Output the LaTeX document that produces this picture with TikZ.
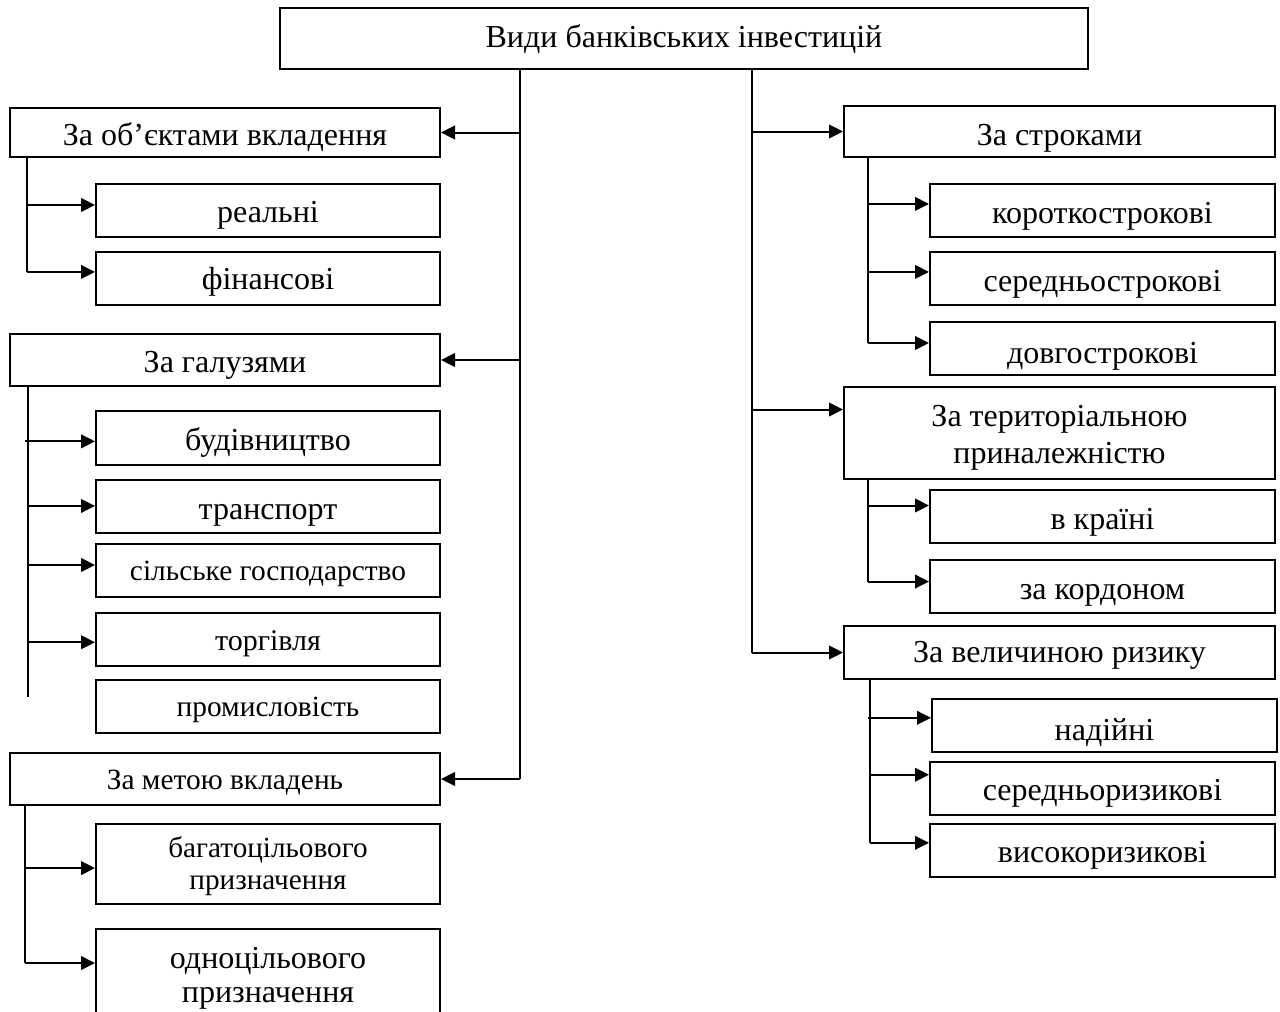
\documentclass[tikz,border=0pt]{standalone}
\usepackage{fontspec}
\setmainfont{Liberation Serif}
\usetikzlibrary{arrows.meta,fit,calc}
\begin{document}
\begin{tikzpicture}[x=0.5pt,y=-0.5pt,
  box/.style={draw, line width=1pt, inner sep=0pt},
  txt/.style={inner sep=0pt, font=\fontsize{16}{18.5}\selectfont, text height=11.2pt, text depth=4pt},
  sm/.style={font=\fontsize{14.7}{17}\selectfont},
  two/.style={inner sep=0pt, align=center, font=\fontsize{16}{18.5}\selectfont},
  arr/.style={line width=1pt, -{Triangle[length=7pt,width=6.8pt]}},
  ln/.style={line width=1pt}]
\useasboundingbox (0,0) rectangle (1280,1012);
% top
\node[box, fit={(280,8)(1088,69)}] (top) {};
\node[txt, yshift=-1pt] (topt) at (top.center) {Види банківських інвестицій};
% left column
\node[box, fit={(10,108)(440,157)}] (o1) {};
\node[txt, yshift=-3pt] (o1t) at (o1.center) {За об’єктами вкладення};
\node[box, fit={(96,184)(440,237)}] (o1a) {};
\node[txt, yshift=-2.25pt] (o1at) at (o1a.center) {реальні};
\node[box, fit={(96,252)(440,305)}] (o1b) {};
\node[txt, yshift=-2pt] (o1bt) at (o1b.center) {фінансові};
\node[box, fit={(10,334)(440,386)}] (o2) {};
\node[txt, yshift=-2.75pt] (o2t) at (o2.center) {За галузями};
\node[box, fit={(96,411)(440,465)}] (o2a) {};
\node[txt, yshift=-2.75pt] (o2at) at (o2a.center) {будівництво};
\node[box, fit={(96,480)(440,533)}] (o2b) {};
\node[txt, yshift=-3pt] (o2bt) at (o2b.center) {транспорт};
\node[box, fit={(96,544)(440,597)}] (o2c) {};
\node[txt, sm, yshift=-1.5pt] (o2ct) at (o2c.center) {сільське господарство};
\node[box, fit={(96,613)(440,666)}] (o2d) {};
\node[txt, font=\fontsize{15}{17}\selectfont, yshift=-2pt] (o2dt) at (o2d.center) {торгівля};
\node[box, fit={(96,680)(440,733)}] (o2e) {};
\node[txt, sm, yshift=-1.5pt] (o2et) at (o2e.center) {промисловість};
\node[box, fit={(10,753)(440,805)}] (o3) {};
\node[txt, sm, yshift=-1.75pt] (o3t) at (o3.center) {За метою вкладень};
\node[box, fit={(96,824)(440,904)}] (o3a) {};
\node[two, font=\fontsize{14.6}{15.8}\selectfont, yshift=-1pt] (o3at) at (o3a.center) {багатоцільового\\призначення};
\node[box, fit={(96,929)(440,1030)}] (o3b) {};
\node[two, font=\fontsize{16}{17.3}\selectfont, yshift=0.5pt] (o3bt) at (o3b.center) {одноцільового\\призначення};
% right column
\node[box, fit={(844,106)(1275,157)}] (r1) {};
\node[txt, yshift=-3.5pt] (r1t) at (r1.center) {За строками};
\node[box, fit={(930,184)(1275,237)}] (r1a) {};
\node[txt, yshift=-2.75pt] (r1at) at (r1a.center) {короткострокові};
\node[box, fit={(930,252)(1275,305)}] (r1b) {};
\node[txt, yshift=-3pt] (r1bt) at (r1b.center) {середньострокові};
\node[box, fit={(930,322)(1275,375)}] (r1c) {};
\node[txt, yshift=-4pt] (r1ct) at (r1c.center) {довгострокові};
\node[box, fit={(844,387)(1275,479)}] (r2) {};
\node[two, yshift=-2.25pt] (r2t) at (r2.center) {За територіальною\\приналежністю};
\node[box, fit={(930,490)(1275,543)}] (r2a) {};
\node[txt, yshift=-3pt] (r2at) at (r2a.center) {в країні};
\node[box, fit={(930,560)(1275,613)}] (r2b) {};
\node[txt, yshift=-3pt] (r2bt) at (r2b.center) {за кордоном};
\node[box, fit={(844,626)(1275,679)}] (r3) {};
\node[txt, yshift=-1.5pt] (r3t) at (r3.center) {За величиною ризику};
\node[box, fit={(932,699)(1277,752)}] (r3a) {};
\node[txt, yshift=-4pt] (r3at) at (r3a.center) {надійні};
\node[box, fit={(930,762)(1275,815)}] (r3b) {};
\node[txt, yshift=-2.5pt] (r3bt) at (r3b.center) {середньоризикові};
\node[box, fit={(930,824)(1275,877)}] (r3c) {};
\node[txt, yshift=-2.5pt] (r3ct) at (r3c.center) {високоризикові};
% trunk x positions
\coordinate (tL) at (520,0);
\coordinate (tR) at (752,0);
\coordinate (s1) at (27,0);
\coordinate (s2) at (28,0);
\coordinate (s3) at (25,0);
\coordinate (q1) at (868,0);
\coordinate (q2) at (868,0);
\coordinate (q3) at (870,0);
% arrow target points
\coordinate (p1a) at ($(o1a.north west)!0.40!(o1a.south west)$);
\coordinate (p1b) at ($(o1b.north west)!0.38!(o1b.south west)$);
\coordinate (p2a) at ($(o2a.north west)!0.56!(o2a.south west)$);
\coordinate (p2b) at ($(o2b.north west)!0.49!(o2b.south west)$);
\coordinate (p2c) at ($(o2c.north west)!0.40!(o2c.south west)$);
\coordinate (p2d) at ($(o2d.north west)!0.55!(o2d.south west)$);
\coordinate (p2e) at ($(o2e.north west)!0.32!(o2e.south west)$);
\coordinate (p3a) at ($(o3a.north west)!0.55!(o3a.south west)$);
\coordinate (p3b) at ($(o3b.north west)!0.34!(o3b.south west)$);
\coordinate (m1a) at ($(r1a.north west)!0.38!(r1a.south west)$);
\coordinate (m1b) at ($(r1b.north west)!0.38!(r1b.south west)$);
\coordinate (m1c) at ($(r1c.north west)!0.40!(r1c.south west)$);
\coordinate (m2) at ($(r2.north west)!0.25!(r2.south west)$);
\coordinate (m2a) at ($(r2a.north west)!0.30!(r2a.south west)$);
\coordinate (m2b) at ($(r2b.north west)!0.41!(r2b.south west)$);
\coordinate (m3a) at ($(r3a.north west)!0.36!(r3a.south west)$);
\coordinate (m3b) at ($(r3b.north west)!0.25!(r3b.south west)$);
\coordinate (m3c) at ($(r3c.north west)!0.36!(r3c.south west)$);
% main trunks
\draw[ln] (top.south -| tL) -- (o3.east -| tL);
\draw[ln] (top.south -| tR) -- (r3.west -| tR);
\draw[arr] (o1.east -| tL) -- (o1.east);
\draw[arr] (o2.east -| tL) -- (o2.east);
\draw[arr] (o3.east -| tL) -- (o3.east);
\draw[arr] (r1.west -| tR) -- (r1.west);
\draw[arr] (m2 -| tR) -- (m2);
\draw[arr] (r3.west -| tR) -- (r3.west);
% left sub trunks
\draw[ln] (o1.south -| s1) -- (p1b -| s1);
\draw[arr] (p1a -| s1) -- (p1a);
\draw[arr] (p1b -| s1) -- (p1b);
\draw[ln] (o2.south -| s2) -- (p2e -| s2);
\draw[arr] (p2a -| s3) -- (p2a);
\draw[arr] (p2b -| s2) -- (p2b);
\draw[arr] (p2c -| s2) -- (p2c);
\draw[arr] (p2d -| s2) -- (p2d);
\draw[ln] (o3.south -| s3) -- (p3b -| s3);
\draw[arr] (p3a -| s3) -- (p3a);
\draw[arr] (p3b -| s3) -- (p3b);
% right sub trunks
\draw[ln] (r1.south -| q1) -- (m1c -| q1);
\draw[arr] (m1a -| q1) -- (m1a);
\draw[arr] (m1b -| q1) -- (m1b);
\draw[arr] (m1c -| q1) -- (m1c);
\draw[ln] (r2.south -| q2) -- (m2b -| q2);
\draw[arr] (m2a -| q2) -- (m2a);
\draw[arr] (m2b -| q2) -- (m2b);
\draw[ln] (r3.south -| q3) -- (m3c -| q3);
\draw[arr] (m3a -| q1) -- (m3a);
\draw[arr] (m3b -| q3) -- (m3b);
\draw[arr] (m3c -| q3) -- (m3c);
\end{tikzpicture}
\end{document}
